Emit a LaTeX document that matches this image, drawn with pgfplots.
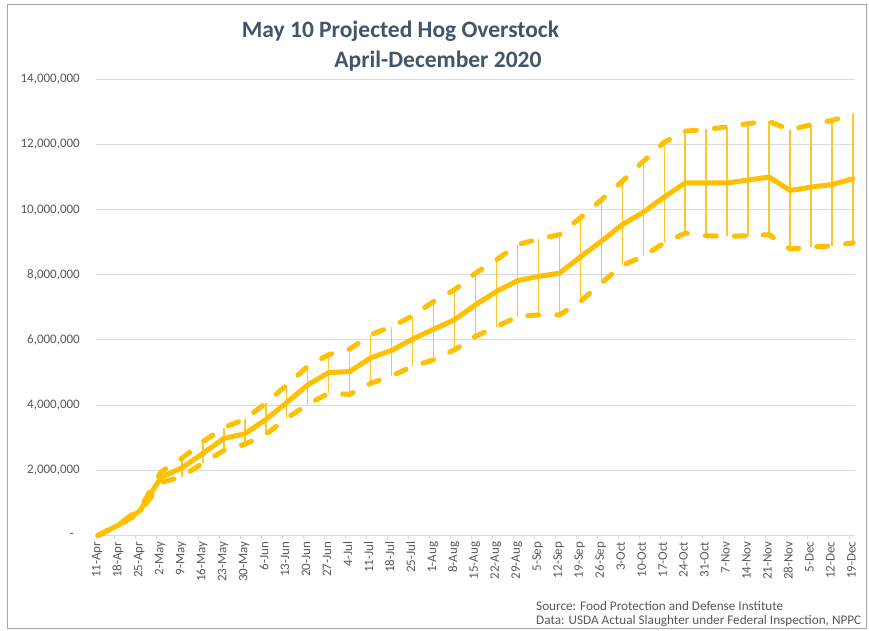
\documentclass[border=0pt]{standalone}
\usepackage{fontspec}
\setmainfont{Carlito}
\usepackage{pgfplots}
\usepackage{pgfplotstable}
\pgfplotsset{compat=1.18}
\definecolor{gold}{HTML}{FFC000}
\definecolor{hlgold}{HTML}{FFC62A}
\definecolor{axgray}{HTML}{595959}
\definecolor{gridgray}{HTML}{D9DDE3}
\definecolor{titleblue}{HTML}{44546A}
\definecolor{framegray}{HTML}{A6A6A6}
\pgfplotstableread{
i mid up lo
0 0 0 0
1 330000 350000 310000
2 760000 820000 700000
3 1780000 1950000 1620000
4 2080000 2370000 1810000
5 2520000 2880000 2220000
6 2980000 3310000 2610000
7 3120000 3570000 2800000
8 3560000 4060000 3100000
9 4080000 4620000 3600000
10 4620000 5190000 4020000
11 5000000 5550000 4370000
12 5030000 5720000 4330000
13 5450000 6160000 4670000
14 5680000 6410000 4900000
15 6030000 6740000 5190000
16 6330000 7180000 5390000
17 6620000 7540000 5700000
18 7080000 8050000 6110000
19 7490000 8460000 6410000
20 7820000 8920000 6720000
21 7950000 9100000 6770000
22 8050000 9230000 6770000
23 8550000 9750000 7180000
24 9030000 10300000 7750000
25 9540000 10870000 8290000
26 9920000 11480000 8570000
27 10390000 12070000 8980000
28 10820000 12410000 9280000
29 10820000 12460000 9200000
30 10820000 12540000 9180000
31 10910000 12640000 9200000
32 11000000 12710000 9230000
33 10590000 12440000 8790000
34 10690000 12610000 8850000
35 10770000 12740000 8890000
36 10950000 12920000 8980000
}\data
\begin{document}
\begin{tikzpicture}
\fill[white] (0,0) rectangle (869bp,631bp);
\path[use as bounding box] (0,0) rectangle (869bp,631bp);
\draw[framegray, line width=1bp] (7bp,2bp) rectangle (866bp,626bp);
\begin{axis}[
  at={(96bp,95.5bp)}, anchor=south west,
  scale only axis, width=759bp, height=456.2bp,
  xmin=-0.095, xmax=36.095, ymin=0, ymax=14000000,
  axis line style={draw=none},
  clip=false,
  scaled y ticks=false,
  ymajorgrids, grid style={draw=gridgray, line width=1bp},
  ytick={0,2000000,4000000,6000000,8000000,10000000,12000000,14000000},
  yticklabels={{-\kern6bp},{2,000,000},{4,000,000},{6,000,000},{8,000,000},{10,000,000},{12,000,000},{14,000,000}},
  yticklabel style={font=\fontsize{13bp}{15bp}\selectfont, text=axgray, inner sep=0pt, anchor=east},
  yticklabel shift=16bp,
  xtick={0,...,36},
  xticklabels={11-Apr,18-Apr,25-Apr,2-May,9-May,16-May,23-May,30-May,6-Jun,13-Jun,20-Jun,27-Jun,4-Jul,11-Jul,18-Jul,25-Jul,1-Aug,8-Aug,15-Aug,22-Aug,29-Aug,5-Sep,12-Sep,19-Sep,26-Sep,3-Oct,10-Oct,17-Oct,24-Oct,31-Oct,7-Nov,14-Nov,21-Nov,28-Nov,5-Dec,12-Dec,19-Dec},
  xticklabel style={font=\fontsize{13bp}{15bp}\selectfont, text=axgray, inner sep=0pt, rotate=90, anchor=east, text height=0.65em, text depth=0.15em},
  xticklabel shift=6bp,
  major tick length=0pt,
  minor xtick={-0.19,0.81,...,35.9},
  minor tick length=4bp,
  tick align=outside,
  xtick pos=bottom, ytick pos=left,
  minor tick style={draw=gridgray, line width=1bp},
]
\addplot[draw=none, mark=none, forget plot,
  error bars/.cd, y dir=plus, y explicit, error mark=none,
  error bar style={draw=hlgold, solid, line width=1.5bp}]
  table[x=i, y=lo, y error plus expr=\thisrow{up}-\thisrow{lo}]{\data};
\addplot[gold, line width=5bp, line cap=round, line join=round, dash pattern=on 11bp off 18bp] table[x=i, y=up]{\data};
\addplot[gold, line width=5bp, line cap=round, line join=round, dash pattern=on 11bp off 18bp] table[x=i, y=lo]{\data};
\addplot[gold, line width=5bp, line cap=round, line join=round] table[x=i, y=mid]{\data};
\end{axis}
\node[font=\bfseries\fontsize{23.5bp}{28bp}\selectfont, text=titleblue, inner sep=0pt] at (400.5bp,600bp) {May 10 Projected Hog Overstock};
\node[font=\bfseries\fontsize{23.5bp}{28bp}\selectfont, text=titleblue, inner sep=0pt] at (438bp,570bp) {April-December 2020};
\node[font=\fontsize{13.2bp}{15bp}\selectfont, text=axgray, anchor=west, inner sep=0pt] at (536bp,25bp) {Source: Food Protection and Defense Institute};
\node[font=\fontsize{13.2bp}{15bp}\selectfont, text=axgray, anchor=west, inner sep=0pt] at (536bp,10bp) {Data: USDA Actual Slaughter under Federal Inspection, NPPC};
\end{tikzpicture}
\end{document}
